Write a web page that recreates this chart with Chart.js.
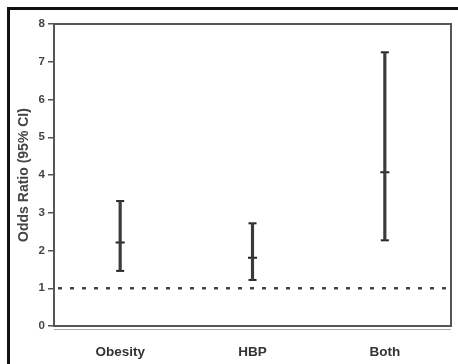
<!DOCTYPE html>
<html>
<head>
<meta charset="utf-8">
<script src="https://cdn.jsdelivr.net/npm/chart.js@4"></script>
<style>
  html, body { margin: 0; padding: 0; background: #fff; overflow: hidden; }
  #wrap { position: relative; width: 458px; height: 364px; }
  #frame { position: absolute; left: 7px; top: 7px; width: 500px; height: 400px; border: 3px solid #111; box-sizing: border-box; pointer-events: none; }
  canvas { position: absolute; left: 0; top: 0; }
</style>
</head>
<body>
<div id="wrap">
  <canvas id="myChart" width="458" height="364"></canvas>
  <div id="frame"></div>
</div>
<script>
// Odds ratios with 95% confidence intervals
const categories = ['Obesity', 'HBP', 'Both'];
const oddsRatio = [2.21, 1.81, 4.07];
const ciLow = [1.46, 1.22, 2.27];
const ciHigh = [3.31, 2.72, 7.25];
const yTicks = [0, 1, 2, 3, 4, 5, 6, 7, 8];
const refLine = 1;

const ink = '#3a3a3a';
const fontFamily = 'Liberation Sans, Arial, sans-serif';

// box round the plot area + dotted reference line at OR = 1
const framePlugin = {
    id: 'frame',
    beforeDatasetsDraw(chart) {
        const { ctx, chartArea: a, scales } = chart;
        const y = scales.y.getPixelForValue(refLine);
        ctx.save();
        ctx.strokeStyle = '#444';
        ctx.lineWidth = 2.5;
        ctx.setLineDash([4, 8]);
        ctx.beginPath();
        ctx.moveTo(a.left + 4, y);
        ctx.lineTo(a.right, y);
        ctx.stroke();
        ctx.restore();
    },
    afterDraw(chart) {
        const { ctx, chartArea: a } = chart;
        ctx.save();
        ctx.strokeStyle = '#555';
        ctx.lineWidth = 2;
        ctx.strokeRect(a.left, a.top, a.right - a.left, a.bottom - a.top);
        ctx.strokeStyle = '#aaa';
        ctx.lineWidth = 1;
        ctx.beginPath();
        ctx.moveTo(a.left, a.bottom + 3.5);
        ctx.lineTo(a.right, a.bottom + 3.5);
        ctx.stroke();
        ctx.restore();
    }
};

const capStyle = {
    type: 'line',
    showLine: false,
    pointStyle: 'line',
    pointRadius: 4,
    pointBorderWidth: 2,
    pointBorderColor: '#222',
    borderColor: '#222'
};

const ctx = document.getElementById('myChart').getContext('2d');
const myChart = new Chart(ctx, {
    type: 'bar',
    data: {
        labels: categories,
        datasets: [
            {
                label: '95% CI',
                data: categories.map((c, i) => [ciLow[i], ciHigh[i]]),
                backgroundColor: ink,
                barThickness: 2.5,
                borderWidth: 0
            },
            { ...capStyle, label: 'low', data: ciLow },
            { ...capStyle, label: 'high', data: ciHigh },
            { ...capStyle, label: 'OR', data: oddsRatio, pointRadius: 4.5 }
        ]
    },
    options: {
        responsive: false,
        animation: false,
        layout: { padding: { top: 24, right: 7, left: 0, bottom: 0 } },
        plugins: { legend: { display: false }, tooltip: { enabled: false } },
        scales: {
            x: {
                grid: { display: false },
                border: { display: false },
                ticks: {
                    color: '#333',
                    padding: 10,
                    font: { family: fontFamily, size: 13.5, weight: 'bold' }
                },
                afterFit(s) { s.height = 38; }
            },
            y: {
                min: 0,
                max: 8,
                afterBuildTicks(s) { s.ticks = yTicks.map(v => ({ value: v })); },
                grid: { drawOnChartArea: false, drawTicks: true, tickLength: 6, color: '#555', lineWidth: 1.5 },
                border: { display: false },
                ticks: {
                    color: '#444',
                    padding: 3,
                    font: { family: fontFamily, size: 11.5, weight: 'bold' }
                },
                title: {
                    display: true,
                    text: 'Odds Ratio (95% CI)',
                    color: '#444',
                    padding: { top: 16, bottom: 0 },
                    font: { family: fontFamily, size: 14, weight: 'bold' }
                },
                afterFit(s) { s.width = 54; }
            }
        }
    },
    plugins: [framePlugin]
});
</script>
</body>
</html>
